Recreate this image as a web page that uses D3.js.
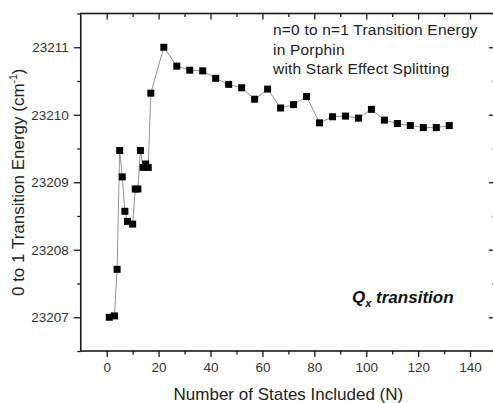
<!DOCTYPE html>
<html>
<head>
<meta charset="utf-8">
<script src="https://cdn.jsdelivr.net/npm/d3@7"></script>
<style>
  html, body { margin: 0; padding: 0; background: #fff; }
  svg { display: block; font-family: "Liberation Sans", Arial, sans-serif; }
</style>
</head>
<body>
<svg id="chart" width="493" height="403"></svg>
<script>
// Number of states included in the calculation
const states = [1, 3, 4, 5, 6, 7, 8, 10, 11, 12, 13, 14, 15, 16, 17,
  22, 27, 32, 37, 42, 47, 52, 57, 62, 67, 72, 77, 82, 87, 92, 97,
  102, 107, 112, 117, 122, 127, 132];
// 0 -> 1 transition energy (cm^-1)
const energy = [23207.00, 23207.02, 23207.71, 23209.47, 23209.08, 23208.57, 23208.42,
  23208.38, 23208.90, 23208.90, 23209.47, 23209.22, 23209.27, 23209.22, 23210.32,
  23211.00, 23210.72, 23210.66, 23210.65, 23210.54, 23210.45, 23210.40, 23210.23,
  23210.38, 23210.10, 23210.15, 23210.27, 23209.88, 23209.97, 23209.98, 23209.95,
  23210.08, 23209.92, 23209.87, 23209.84, 23209.81, 23209.81, 23209.84];

const xMajor = [0, 20, 40, 60, 80, 100, 120, 140];
const xMinor = [10, 30, 50, 70, 90, 110, 130, 150];
const yMajor = [23207, 23208, 23209, 23210, 23211];
const yMinor = [23206.5, 23207.5, 23208.5, 23209.5, 23210.5, 23211.5];

const titleLines = ["n=0 to n=1 Transition Energy", "in Porphin", "with Stark Effect Splitting"];

const svg = d3.select("#chart");
const plotL = 80.75, plotR = 496, plotT = 13.5, plotB = 351;

const x = d3.scaleLinear().domain([-10, 150]).range([plotL, plotR]);
const y = d3.scaleLinear().domain([23206.5, 23211.5]).range([plotB, plotT]);

const axisColor = "#1a1a1a";
const labelColor = "#333";

function styleAxis(g) {
  g.select(".domain").remove();
  g.selectAll(".tick line").attr("stroke", axisColor).attr("stroke-width", 1.3);
  g.selectAll(".tick text").attr("fill", labelColor).attr("font-size", "13.5px")
    .attr("font-family", "'Liberation Sans', Arial, sans-serif");
}

// bottom axis (outward ticks)
svg.append("g").attr("transform", `translate(0,${plotB})`)
  .call(d3.axisBottom(x).tickValues(xMajor).tickSize(6).tickPadding(5).tickFormat(d3.format("d")))
  .call(styleAxis);
svg.append("g").attr("transform", `translate(0,${plotB})`)
  .call(d3.axisBottom(x).tickValues(xMinor).tickSize(3.5).tickFormat(""))
  .call(styleAxis);

// top axis (inward ticks)
svg.append("g").attr("transform", `translate(0,${plotT})`)
  .call(d3.axisBottom(x).tickValues(xMajor).tickSize(6).tickFormat(""))
  .call(styleAxis);
svg.append("g").attr("transform", `translate(0,${plotT})`)
  .call(d3.axisBottom(x).tickValues(xMinor).tickSize(3.5).tickFormat(""))
  .call(styleAxis);

// left axis (outward ticks)
svg.append("g").attr("transform", `translate(${plotL},0)`)
  .call(d3.axisLeft(y).tickValues(yMajor).tickSize(7).tickPadding(5).tickFormat(d3.format("d")))
  .call(styleAxis);
svg.append("g").attr("transform", `translate(${plotL},0)`)
  .call(d3.axisLeft(y).tickValues(yMinor).tickSize(3.5).tickFormat(""))
  .call(styleAxis);

// right axis (inward ticks)
svg.append("g").attr("transform", `translate(${plotR},0)`)
  .call(d3.axisLeft(y).tickValues(yMajor).tickSize(7).tickFormat(""))
  .call(styleAxis);
svg.append("g").attr("transform", `translate(${plotR},0)`)
  .call(d3.axisLeft(y).tickValues(yMinor).tickSize(3.5).tickFormat(""))
  .call(styleAxis);

// frame
svg.append("rect")
  .attr("x", plotL).attr("y", plotT)
  .attr("width", plotR - plotL).attr("height", plotB - plotT)
  .attr("fill", "none").attr("stroke", axisColor).attr("stroke-width", 1.6);

// data line and square markers
const pts = states.map((n, i) => [n, energy[i]]);
svg.append("path")
  .datum(pts)
  .attr("fill", "none")
  .attr("stroke", "#777")
  .attr("stroke-width", 0.8)
  .attr("d", d3.line().x(d => x(d[0])).y(d => y(d[1])));

const m = 7;
svg.append("g").selectAll("rect")
  .data(pts)
  .join("rect")
  .attr("x", d => x(d[0]) - m / 2)
  .attr("y", d => y(d[1]) - m / 2)
  .attr("width", m).attr("height", m)
  .attr("fill", "#000");

// axis titles
svg.append("text")
  .attr("x", (plotL + plotR) / 2).attr("y", 400)
  .attr("text-anchor", "middle")
  .attr("font-size", "17px").attr("fill", "#222")
  .text("Number of States Included (N)");

const yt = svg.append("text")
  .attr("transform", `translate(24,${(plotT + plotB) / 2}) rotate(-90)`)
  .attr("text-anchor", "middle")
  .attr("font-size", "17px").attr("fill", "#222");
yt.append("tspan").text("0 to 1 Transition Energy (cm");
yt.append("tspan").attr("font-size", "10.5px").attr("dy", "-7").text("-1");
yt.append("tspan").attr("dy", "7").text(")");

// annotation
const ann = svg.append("text")
  .attr("font-size", "15.5px").attr("letter-spacing", "0.2px").attr("fill", "#222");
titleLines.forEach((t, i) => {
  ann.append("tspan").attr("x", 273).attr("y", 35 + i * 19.5).text(t);
});

const q = svg.append("text")
  .attr("x", 352).attr("y", 303)
  .attr("font-size", "17px").attr("font-weight", "bold").attr("font-style", "italic")
  .attr("fill", "#111");
q.append("tspan").text("Q");
q.append("tspan").attr("font-size", "11px").attr("dy", "4").text("x");
q.append("tspan").attr("dy", "-4").text(" transition");
</script>
</body>
</html>
